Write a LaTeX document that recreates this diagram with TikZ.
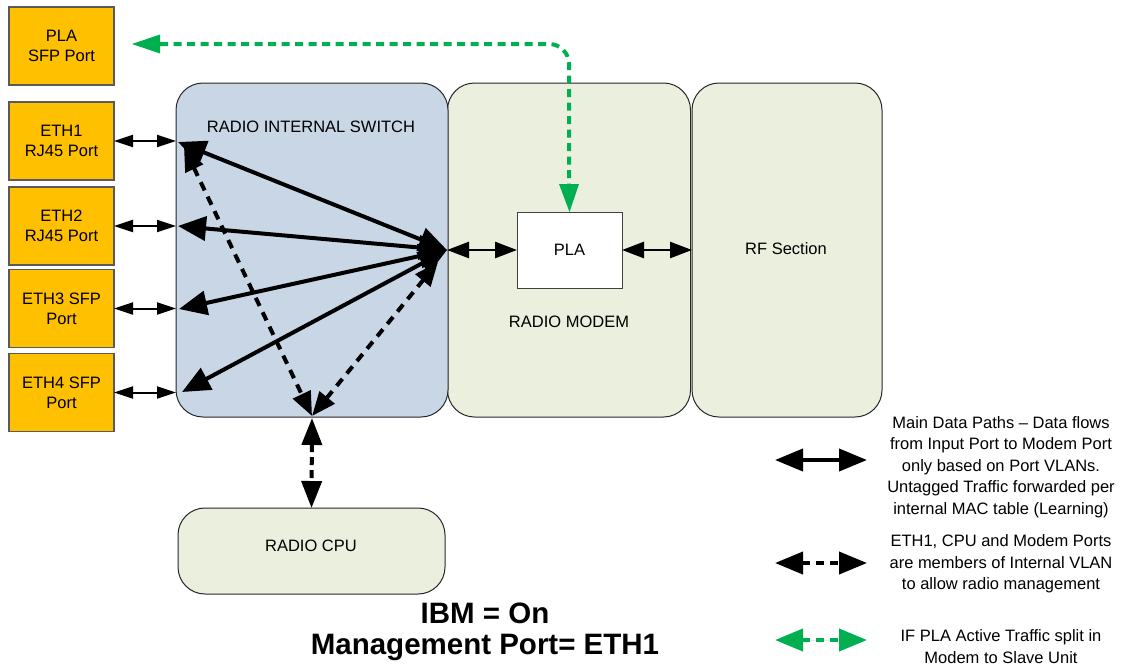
\documentclass[tikz,border=0pt]{standalone}
\usepackage{fontspec}
\setmainfont{Liberation Sans}
\usetikzlibrary{arrows.meta}

\definecolor{portfill}{RGB}{255,192,0}
\definecolor{portline}{RGB}{90,90,90}
\definecolor{switchfill}{RGB}{200,214,230}
\definecolor{modemfill}{RGB}{235,239,222}
\definecolor{plagreen}{RGB}{0,176,80}

\tikzset{
  port/.style={draw=portline, line width=1.2pt, fill=portfill, minimum width=105pt,
    minimum height=78pt, inner sep=0pt, outer sep=0pt, align=center,
    font=\fontsize{16.5}{20}\selectfont},
  block/.style={draw=black!85, line width=1pt, rounded corners=27pt, inner sep=0pt, outer sep=0pt},
  lbl/.style={font=\fontsize{16.5}{20}\selectfont, align=center, inner sep=0pt},
  legendtext/.style={font=\fontsize{16.5}{21.5}\selectfont, align=center, inner sep=0pt},
  smallarrow/.style={line width=2pt, {Triangle[length=19pt,width=12pt]}-{Triangle[length=19pt,width=12pt]}},
  midarrow/.style={line width=2.6pt, {Triangle[length=22pt,width=16pt]}-{Triangle[length=22pt,width=16pt]}},
  bigarrow/.style={line width=4pt, {Triangle[length=28pt,width=24pt]}-{Triangle[length=28pt,width=24pt]}},
  mgmtarrow/.style={line width=4pt, dash pattern=on 9pt off 7pt,
    {Triangle[length=24pt,width=19pt]}-{Triangle[length=24pt,width=19pt]}},
  cpuarrow/.style={line width=4pt, dash pattern=on 8pt off 5pt,
    {Triangle[length=27pt,width=20pt]}-{Triangle[length=27pt,width=20pt]}},
  legendarrow/.style={line width=4pt, {Triangle[length=28pt,width=22pt]}-{Triangle[length=28pt,width=22pt]}},
  greenline/.style={draw=plagreen, line width=4pt, dash pattern=on 8pt off 5.5pt}
}

\begin{document}
\begin{tikzpicture}[x=1pt,y=-1pt]
\useasboundingbox (0,0) rectangle (1124,670);

% main blocks
\node[block, fill=modemfill, minimum width=243pt, minimum height=334pt] (modem) at (569,250) {};
\node[block, fill=modemfill, minimum width=190pt, minimum height=334pt] (rf) at (787,250) {};
\node[block, fill=switchfill, minimum width=272pt, minimum height=334pt] (sw) at (312,250) {};
\node[block, fill=modemfill, minimum width=267pt, minimum height=86pt] (cpu) at (311.5,551) {};
\node[draw=black!75, line width=1pt, fill=white, minimum width=105pt, minimum height=76pt,
  inner sep=0pt, outer sep=0pt] (pla) at (569.5,250) {};

% block labels
\node[lbl] (swlabel) at (311,127) {RADIO INTERNAL SWITCH};
\node[lbl] (modemlabel) at (569,322) {RADIO MODEM};
\node[lbl] (rflabel) at (786,249) {RF Section};
\node[lbl] (cpulabel) at (311,546) {RADIO CPU};
\node[lbl] (plalabel) at (569.5,250) {PLA};

% external ports
\node[port] (plasfp) at (61.5,46) {PLA\\SFP Port};
\node[port] (eth1) at (61.5,141) {ETH1\\RJ45 Port};
\node[port] (eth2) at (61.5,226) {ETH2\\RJ45 Port};
\node[port] (eth3) at (61.5,308.5) {ETH3 SFP\\Port};
\node[port] (eth4) at (61.5,392.5) {ETH4 SFP\\Port};

% port links into the switch
\foreach \p in {eth1,eth2,eth3,eth4}
  \draw[smallarrow] (\p.east) -- (\p.east -| sw.west);

% switch fan-out points
\coordinate (hub) at (447,250);
\coordinate (p1) at (178,142);
\coordinate (p2) at (178,226);
\coordinate (p3) at (179,309);
\coordinate (p4) at (182,392);
\coordinate (mgmt) at (312,416);
\coordinate (m1) at (184,147);
\coordinate (m2) at (438,262);

% management VLAN (dashed)
\draw[mgmtarrow] (m1) -- (mgmt);
\draw[mgmtarrow] (m2) -- (mgmt);

% main data paths
\foreach \p in {p1,p2,p3,p4}
  \draw[bigarrow] (hub) -- (\p);

% switch to CPU
\draw[cpuarrow] (312,418) -- (cpu.north);

% modem chain
\draw[midarrow] (hub) -- (pla.west);
\draw[midarrow] (pla.east) -- (pla.east -| rf.west);

% PLA split path
\coordinate (plaend) at (132,44);
\draw[greenline, rounded corners=20pt] (160,44) -- (569,44) -- (569,184);
\draw[draw=none, fill=plagreen] (plaend) -- (160,34.5) -- (160,53.5) -- cycle;
\draw[draw=none, fill=plagreen] (pla.north) -- (559,184) -- (579,184) -- cycle;

% legend
\coordinate (l1a) at (775,460); \coordinate (l1b) at (867,460);
\coordinate (l2a) at (775,563); \coordinate (l2b) at (867,563);
\coordinate (l3a) at (775,640); \coordinate (l3b) at (867,640);
\draw[legendarrow] (l1a) -- (l1b);
\draw[legendarrow, dash pattern=on 8pt off 6pt] (l2a) -- (l2b);
\draw[legendarrow, draw=plagreen, fill=plagreen, dash pattern=on 8pt off 6pt] (l3a) -- (l3b);

\node[legendtext] (leg1) at (1001,467) {Main Data Paths -- Data flows\\from Input Port to Modem Port\\only based on Port VLANs.\\Untagged Traffic forwarded per\\internal MAC table (Learning)};
\node[legendtext] (leg2) at (1001,564) {ETH1, CPU and Modem Ports\\are members of Internal VLAN\\to allow radio management};
\node[legendtext] (leg3) at (1001,646.5) {IF PLA Active Traffic split in\\Modem to Slave Unit};

% title
\node[font=\bfseries\fontsize{29.5}{31}\selectfont, align=center, inner sep=0pt] (title) at (485,632) {IBM = On\\Management Port= ETH1};
\end{tikzpicture}
\end{document}
